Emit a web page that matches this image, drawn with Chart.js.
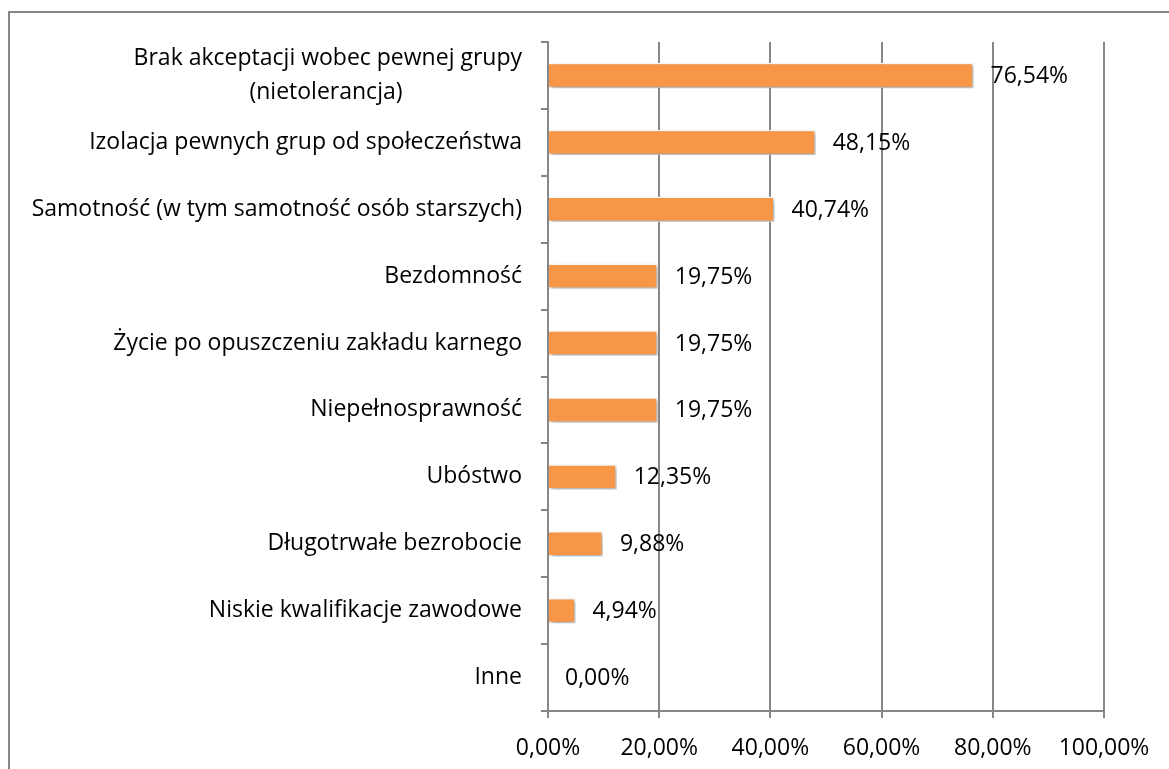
<!DOCTYPE html>
<html lang="pl">
  <head>
    <meta charset="UTF-8" />
    <title>Problemy społeczne</title>
    <script src="https://cdn.jsdelivr.net/npm/chart.js"></script>
    <style>
      body {
        margin: 0;
        background: #fff;
        overflow: hidden;
      }
      .frame {
        position: absolute;
        left: 8px;
        top: 11px;
        width: 1200px;
        height: 800px;
        border: 2px solid #878787;
      }
      .wrap {
        position: absolute;
        left: 0;
        top: 0;
        width: 1169px;
        height: 769px;
      }
    </style>
  </head>
  <body>
    <div class="frame"></div>
    <div class="wrap">
      <canvas id="chart" width="1169" height="769"></canvas>
    </div>

    <script>
      const categories = [
        ["Brak akceptacji wobec pewnej grupy", "(nietolerancja)"],
        "Izolacja pewnych grup od społeczeństwa",
        "Samotność (w tym samotność osób starszych)",
        "Bezdomność",
        "Życie po opuszczeniu zakładu karnego",
        "Niepełnosprawność",
        "Ubóstwo",
        "Długotrwałe bezrobocie",
        "Niskie kwalifikacje zawodowe",
        "Inne",
      ];
      const values = [76.54, 48.15, 40.74, 19.75, 19.75, 19.75, 12.35, 9.88, 4.94, 0];
      const xTicks = [0, 20, 40, 60, 80, 100];

      const FONT = "'Open Sans', sans-serif";
      const SIZE = 23;
      const fmt = (v) => v.toFixed(2).replace(".", ",") + "%";

      // wyśrodkowanie krótszej linii etykiety (jak w Excelu)
      const measure = document.createElement("canvas").getContext("2d");
      function centerLines(lines) {
        measure.font = SIZE + "px " + FONT;
        const widths = lines.map((l) => measure.measureText(l).width);
        const maxW = Math.max(...widths);
        const sp = measure.measureText(" ").width;
        return lines.map((l, i) => l + " ".repeat(Math.round((maxW - widths[i]) / 2 / sp)));
      }

      // cień pod słupkami + etykiety wartości
      const barShadow = {
        id: "barShadow",
        beforeDatasetsDraw(chart) {
          const ctx = chart.ctx;
          ctx.save();
          ctx.shadowColor = "rgba(0,0,0,0.35)";
          ctx.shadowBlur = 4;
          ctx.shadowOffsetX = 2;
          ctx.shadowOffsetY = 2;
        },
        afterDatasetsDraw(chart) {
          const ctx = chart.ctx;
          ctx.restore();
          const meta = chart.getDatasetMeta(0);
          ctx.save();
          ctx.font = SIZE + "px " + FONT;
          ctx.fillStyle = "#000";
          ctx.textAlign = "left";
          ctx.textBaseline = "middle";
          meta.data.forEach((bar, i) => {
            ctx.fillText(fmt(values[i]), bar.x + 17, bar.y + 1);
          });
          ctx.restore();
        },
      };

      new Chart(document.getElementById("chart"), {
        type: "bar",
        data: {
          labels: categories,
          datasets: [
            {
              data: values,
              backgroundColor: "#F79646",
              borderColor: "#FFFFFF",
              borderWidth: 1.5,
              categoryPercentage: 1,
              barPercentage: 0.38,
            },
          ],
        },
        options: {
          indexAxis: "y",
          responsive: false,
          animation: false,
          layout: { padding: { top: 42, right: 65, left: 0, bottom: 0 } },
          plugins: {
            legend: { display: false },
            tooltip: { enabled: false },
          },
          scales: {
            x: {
              min: 0,
              max: 100,
              afterBuildTicks: (scale) => {
                scale.ticks = xTicks.map((v) => ({ value: v }));
              },
              afterFit: (scale) => {
                scale.height = 58;
              },
              grid: {
                color: "#878787",
                lineWidth: 2,
                tickLength: 7,
              },
              border: { color: "#878787", width: 2 },
              ticks: {
                padding: 17,
                color: "#000",
                autoSkip: false,
                maxRotation: 0,
                font: { family: FONT, size: SIZE },
                callback: (v) => fmt(v),
              },
            },
            y: {
              afterFit: (scale) => {
                scale.width = 548;
              },
              grid: {
                color: "#878787",
                lineWidth: 2,
                tickLength: 7,
                drawOnChartArea: false,
              },
              border: { color: "#878787", width: 2 },
              ticks: {
                padding: 19,
                color: "#000",
                autoSkip: false,
                font: { family: FONT, size: SIZE, lineHeight: 1.45 },
                callback: function (v, i) {
                  const l = categories[i];
                  return Array.isArray(l) ? centerLines(l) : l;
                },
              },
            },
          },
        },
        plugins: [barShadow],
      });
    </script>
  </body>
</html>
